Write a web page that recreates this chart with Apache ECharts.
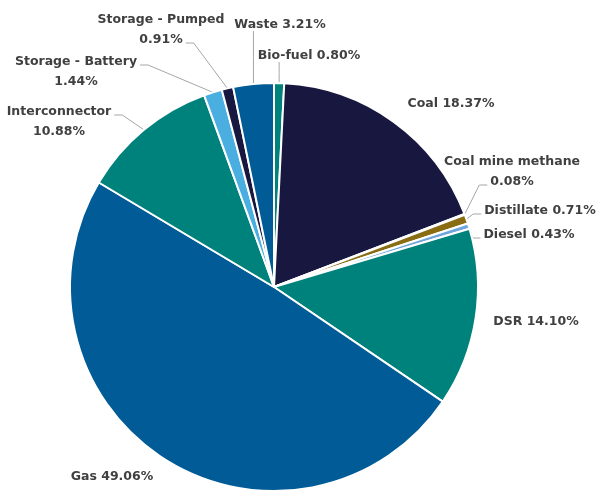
<!DOCTYPE html>
<html><head><meta charset="utf-8">
<script src="https://cdn.jsdelivr.net/npm/echarts@6/dist/echarts.min.js"></script>
<style>html,body{margin:0;padding:0;background:#fff}#c{width:600px;height:500px}</style>
</head><body><div id="c"></div>
<script>
const categories = ["Bio-fuel","Coal","Coal mine methane","Distillate","Diesel","DSR","Gas","Interconnector","Storage - Battery","Storage - Pumped","Waste"];
const values = [0.80,18.37,0.08,0.71,0.43,14.10,49.06,10.88,1.44,0.91,3.21];
const labelBreak = [false,false,true,false,false,false,false,true,true,true,false];
const showLine = [true,false,true,true,true,false,false,true,true,true,true];
// layout only: label anchor centres, leader style, which text line the leader attaches to
const labelPos = [[309,56],[451,104],[512,172],[540,211],[529,235],[536,322],[112,477],[59,122],[76,72],[161,30],[280,25]];
const lineKind = ['up','none','side','side','side','none','none','side','side','side','up'];
const attachLine = [0,0,1,0,0,0,0,0,0,1,0];
const colors = ["#00827c","#17173f","#d9822b","#8a6d12","#6ea6dc","#00827c","#005b96","#00827c","#4aaee0","#17173f","#005b96"];

const FONT_SIZE = 12.5, LINE_H = 20, FONT_FAMILY = 'DejaVu Sans';
const CX = 274, CY = 287, R = 204;
const total = values.reduce((a,b)=>a+b,0);
const midFrac = [];
{ let acc = 0; values.forEach(v=>{ midFrac.push((acc + v/2)/total); acc += v; }); }

const measureCtx = document.createElement('canvas').getContext('2d');
measureCtx.font = 'bold ' + FONT_SIZE + 'px "' + FONT_FAMILY + '"';
function labelLines(i){ const pct = values[i].toFixed(2)+'%'; return labelBreak[i] ? [categories[i], pct] : [categories[i]+' '+pct]; }

const data = categories.map((n,i)=>({
  name:n, value:values[i],
  itemStyle:{color:colors[i]},
  labelLine:{show:showLine[i]}
}));

const chart = echarts.init(document.getElementById('c'));
chart.setOption({
  animation:false,
  series:[{
    type:'pie',
    center:[CX,CY],
    radius:R,
    startAngle:90,
    clockwise:true,
    avoidLabelOverlap:false,
    itemStyle:{borderColor:'#fff',borderWidth:2},
    label:{
      show:true,position:'outside',overflow:'none',
      fontFamily:FONT_FAMILY,fontWeight:'bold',fontSize:FONT_SIZE,color:'#404040',
      lineHeight:LINE_H,align:'center',
      formatter:(p)=>labelLines(p.dataIndex).join('\n')
    },
    labelLine:{length:15,length2:10,lineStyle:{color:'#a6a6a6',width:1}},
    labelLayout:(params)=>{
      const i = params.dataIndex;
      const p = labelPos[i];
      const out = {x:p[0], y:p[1], align:'center', verticalAlign:'middle'};
      const lines = labelLines(i);
      const h = lines.length*LINE_H;
      const a = midFrac[i]*2*Math.PI;
      const ex = CX + R*Math.sin(a), ey = CY - R*Math.cos(a);
      const top = p[1]-h/2;
      if (lineKind[i]==='up') {
        const ty = top + h - 4;
        out.labelLinePoints = [[ex,ey],[ex,(ey+ty)/2],[ex,ty]];
      } else if (lineKind[i]==='side') {
        const k = attachLine[i];
        const lw = measureCtx.measureText(lines[k]).width;
        const ty = top + LINE_H*k + LINE_H*0.5 + 3;
        const isRight = ex > CX;
        const tx = isRight ? p[0]-lw/2-3 : p[0]+lw/2+3;
        const bx = isRight ? tx-8 : tx+8;
        out.labelLinePoints = [[ex,ey],[bx,ty],[tx,ty]];
      }
      return out;
    },
    data:data
  }]
});
</script></body></html>
